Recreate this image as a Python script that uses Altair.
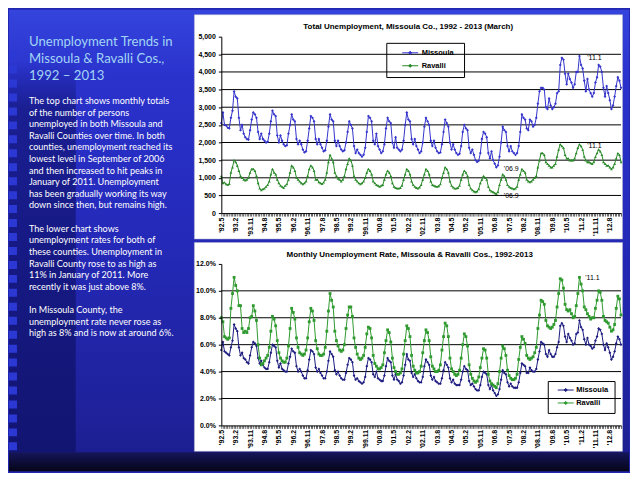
import json
import pandas as pd
import altair as alt

# ---------------- data ----------------
TICK_LABELS = ["'92.5", "'93.2", "'93.11", "'94.8", "'95.5", "'96.2", "'96.11", "'97.8",
               "'98.5", "'99.2", "'99.11", "'00.8", "'01.5", "'02.2", "'02.11", "'03.8",
               "'04.5", "'05.2", "'05.11", "'06.8", "'07.5", "'08.2", "'08.11", "'09.8",
               "'10.5", "'11.2", "'11.11", "'12.8"]

# monthly values, May 1992 .. March 2013
MISSOULA_TOTAL = [
    2550, 2850, 2500, 2480, 2420, 2400, 2700, 2900,
    3450, 3300, 3250, 2700, 2350, 2500, 2250, 2150, 2100, 2080, 2350, 2650,
    2850, 2800, 2700, 2300, 2100, 2250, 2100, 2050, 2000, 2020, 2250, 2600,
    2900, 2800, 2750, 2200, 2000, 2200, 2050, 1950, 1900, 1920, 2250, 2500,
    2800, 2650, 2600, 2100, 1950, 2050, 1950, 1800, 1720, 1750, 2050, 2400,
    2750, 2700, 2600, 2100, 1950, 2100, 1950, 1850, 1750, 1780, 2050, 2450,
    2800, 2650, 2600, 2050, 1900, 2050, 1900, 1800, 1750, 1780, 2000, 2300,
    2600, 2500, 2400, 1900, 1700, 1800, 1700, 1650, 1600, 1650, 1850, 2300,
    2750, 2700, 2600, 2050, 1950, 2250, 1900, 1800, 1700, 1750, 1950, 2400,
    2700, 2600, 2550, 2000, 1850, 2150, 1850, 1800, 1750, 1800, 2050, 2500,
    2850, 2650, 2600, 2100, 1950, 2100, 1900, 1800, 1700, 1750, 2000, 2450,
    2700, 2600, 2500, 2050, 1900, 2050, 1850, 1750, 1700, 1720, 1950, 2300,
    2650, 2550, 2450, 2000, 1800, 1950, 1800, 1700, 1650, 1680, 1900, 2300,
    2500, 2400, 2350, 1850, 1700, 1800, 1650, 1500, 1450, 1480, 1700, 2100,
    2300, 2250, 2150, 1700, 1550, 1750, 1500, 1400, 1300, 1350, 1600, 2000,
    2450, 2350, 2300, 1900, 1750, 1900, 1750, 1700, 1650, 1700, 1900, 2300,
    2800, 2700, 2650, 2400, 2350, 2650, 2600, 2450, 2500, 2700, 3100, 3450,
    3550, 3550, 3500, 3000, 2950, 3250, 3050, 2950, 3000, 3100, 3400, 3450,
    4200, 4400, 4350, 3950, 3650, 3950, 3800, 3700, 3550, 3650, 4000, 4000,
    4450, 4200, 4100, 3750, 3450, 3800, 3500, 3400, 3300, 3400, 3700, 3850,
    4200, 4150, 4000, 3550, 3300, 3600, 3400, 3200, 2950, 3050, 3300, 3600,
    3850, 3750, 3550,
]
RAVALLI_TOTAL = [
    1050, 850, 870, 820, 800, 830, 1150, 1300,
    1500, 1450, 1350, 1200, 1050, 1000, 950, 930, 950, 1000, 1150, 1250,
    1250, 1200, 1050, 850, 700, 650, 680, 700, 750, 800, 900, 1100,
    1250, 1150, 1100, 950, 850, 780, 750, 720, 780, 820, 950, 1150,
    1350, 1300, 1200, 1000, 950, 900, 850, 820, 850, 900, 1050, 1250,
    1350, 1300, 1200, 950, 950, 880, 850, 830, 870, 950, 1150, 1450,
    1650, 1550, 1450, 1150, 1050, 980, 950, 900, 950, 1050, 1250, 1400,
    1550, 1500, 1350, 1050, 950, 900, 850, 820, 850, 900, 1000, 1150,
    1250, 1200, 1100, 900, 850, 800, 780, 750, 780, 800, 950, 1100,
    1200, 1150, 1050, 850, 750, 720, 700, 700, 720, 780, 950, 1100,
    1250, 1200, 1100, 900, 800, 750, 720, 700, 730, 800, 950, 1100,
    1250, 1200, 1100, 900, 800, 780, 760, 750, 770, 820, 1000, 1150,
    1300, 1250, 1150, 900, 780, 730, 700, 700, 720, 780, 950, 1100,
    1200, 1150, 1050, 800, 700, 650, 620, 600, 620, 680, 850, 950,
    1050, 1000, 950, 750, 650, 620, 600, 570, 550, 600, 800, 950,
    1100, 1050, 950, 800, 750, 720, 700, 680, 700, 750, 950, 1100,
    1250, 1200, 1150, 950, 900, 880, 900, 950, 1000, 1050, 1300, 1500,
    1700, 1700, 1650, 1450, 1400, 1350, 1300, 1300, 1350, 1400, 1600, 1800,
    1950, 1900, 1850, 1650, 1550, 1550, 1500, 1500, 1500, 1550, 1700, 1850,
    1950, 1900, 1800, 1600, 1500, 1450, 1450, 1420, 1400, 1450, 1600, 1700,
    1800, 1750, 1650, 1450, 1400, 1350, 1350, 1300, 1250, 1300, 1400, 1550,
    1700, 1650, 1450,
]
MISSOULA_RATE = [
    5.6, 6.2, 5.5, 5.4, 5.3, 5.2, 5.8, 6.3,
    7.5, 7.2, 7.0, 5.8, 5.2, 5.4, 5.0, 4.9, 4.7, 4.6, 5.2, 5.8,
    6.2, 6.1, 5.9, 5.0, 4.6, 4.8, 4.5, 4.3, 4.2, 4.2, 4.7, 5.4,
    6.0, 5.9, 5.8, 4.8, 4.3, 4.6, 4.2, 4.1, 4.0, 4.0, 4.6, 5.1,
    5.7, 5.5, 5.4, 4.4, 4.0, 4.2, 4.0, 3.7, 3.5, 3.5, 4.1, 4.9,
    5.6, 5.5, 5.3, 4.3, 4.0, 4.2, 3.9, 3.7, 3.5, 3.5, 4.0, 4.8,
    5.5, 5.3, 5.1, 4.1, 3.8, 4.0, 3.7, 3.5, 3.4, 3.4, 3.9, 4.5,
    5.0, 4.9, 4.7, 3.7, 3.4, 3.5, 3.3, 3.2, 3.1, 3.2, 3.6, 4.4,
    5.0, 4.9, 4.7, 3.8, 3.6, 4.0, 3.5, 3.4, 3.3, 3.3, 3.7, 4.4,
    5.0, 4.8, 4.7, 3.7, 3.4, 3.8, 3.4, 3.3, 3.1, 3.2, 3.7, 4.5,
    5.3, 4.9, 4.8, 3.9, 3.6, 3.8, 3.5, 3.3, 3.2, 3.2, 3.6, 4.4,
    4.9, 4.7, 4.5, 3.7, 3.4, 3.6, 3.3, 3.2, 3.1, 3.1, 3.5, 4.1,
    4.7, 4.5, 4.3, 3.5, 3.2, 3.4, 3.1, 3.0, 3.0, 3.0, 3.4, 4.0,
    4.4, 4.2, 4.1, 3.3, 3.0, 3.1, 2.9, 2.7, 2.6, 2.6, 3.0, 3.6,
    4.0, 3.9, 3.8, 3.0, 2.7, 3.0, 2.6, 2.4, 2.2, 2.3, 2.7, 3.4,
    4.1, 3.9, 3.8, 3.2, 2.9, 3.1, 2.9, 2.8, 2.8, 2.8, 3.2, 3.9,
    4.6, 4.5, 4.4, 3.9, 3.9, 4.3, 4.1, 4.0, 4.0, 4.2, 4.9, 5.5,
    6.2, 6.1, 6.0, 5.3, 5.1, 5.6, 5.3, 5.1, 5.1, 5.3, 5.8, 6.2,
    7.4, 7.6, 7.4, 6.6, 6.2, 6.8, 6.5, 6.3, 6.0, 6.1, 6.8, 6.9,
    7.8, 7.3, 7.1, 6.4, 6.0, 6.5, 6.0, 5.9, 5.7, 5.8, 6.3, 6.6,
    7.2, 7.1, 6.8, 6.0, 5.6, 6.1, 5.8, 5.4, 4.9, 5.1, 5.5, 6.1,
    6.6, 6.4, 6.0,
]
RAVALLI_RATE = [
    8.0, 7.7, 6.6, 6.5, 6.4, 6.5, 8.7, 9.8,
    11.0, 10.4, 10.0, 8.9, 8.9, 7.2, 6.9, 7.0, 6.9, 7.2, 8.0, 8.1,
    8.9, 8.5, 7.8, 6.0, 5.0, 4.5, 4.6, 4.8, 5.0, 5.2, 5.8, 7.0,
    8.1, 7.9, 7.4, 6.3, 5.4, 5.0, 4.8, 4.7, 4.7, 5.0, 5.9, 7.2,
    8.7, 8.4, 7.9, 6.5, 5.8, 5.4, 5.3, 5.2, 5.3, 5.6, 6.5, 7.7,
    8.7, 8.5, 7.8, 6.3, 5.7, 5.3, 5.2, 5.2, 5.3, 5.8, 7.0, 8.5,
    9.8, 9.3, 8.8, 7.0, 6.3, 5.9, 5.6, 5.5, 5.6, 6.0, 7.2, 8.2,
    8.8, 8.8, 8.1, 6.5, 5.8, 5.3, 5.0, 4.9, 5.0, 5.2, 5.8, 6.8,
    7.3, 7.2, 6.5, 5.2, 4.6, 4.4, 4.2, 4.2, 4.3, 4.5, 5.4, 6.3,
    7.1, 6.9, 6.2, 5.0, 4.3, 4.0, 3.8, 3.8, 3.9, 4.2, 5.3, 6.3,
    7.4, 7.2, 6.6, 5.2, 4.4, 4.1, 3.9, 3.9, 4.0, 4.4, 5.4, 6.3,
    7.1, 6.9, 6.3, 5.1, 4.4, 4.2, 4.0, 4.0, 4.1, 4.5, 5.6, 6.6,
    7.6, 7.4, 6.6, 5.0, 4.2, 4.0, 3.8, 3.7, 3.8, 4.1, 5.0, 6.0,
    6.8, 6.6, 5.9, 4.5, 3.8, 3.5, 3.3, 3.2, 3.3, 3.6, 4.3, 5.0,
    5.7, 5.6, 5.0, 3.8, 3.3, 3.1, 3.0, 2.9, 2.8, 3.1, 4.0, 5.0,
    5.9, 5.7, 5.2, 4.1, 3.7, 3.5, 3.4, 3.4, 3.5, 3.8, 4.9, 5.8,
    6.6, 6.4, 6.1, 5.2, 5.0, 4.9, 5.0, 5.1, 5.4, 5.8, 7.2, 8.2,
    9.3, 9.2, 9.0, 7.8, 7.4, 7.3, 7.2, 7.3, 7.5, 7.8, 8.8, 9.8,
    10.9, 10.8, 10.2, 9.0, 8.6, 8.5, 8.6, 8.3, 8.0, 8.1, 8.9, 9.8,
    11.0, 10.5, 10.0, 8.8, 8.6, 8.3, 8.1, 7.9, 8.0, 8.0, 8.7, 9.3,
    10.0, 9.9, 9.3, 8.1, 7.8, 7.7, 7.6, 7.3, 7.0, 7.1, 7.5, 8.7,
    9.6, 9.4, 8.2,
]
SERIES = ["Missoula", "Ravalli"]
Y_TICKS_TOP = [0, 500, 1000, 1500, 2000, 2500, 3000, 3500, 4000, 4500, 5000]
GRID_TOP = [500, 1000, 1500, 2000, 2500, 3000, 3500, 4000, 4500]
Y_TICKS_BOT = [0, 2, 4, 6, 8, 10, 12]
GRID_BOT = [2, 4, 6, 8, 10]

# annotated points: (month index, series, label)  Sep 2006 = 172, Jan 2011 = 224
ANN_TOP = [(172, "Missoula", "'06.9"), (172, "Ravalli", "'06.9"),
           (224, "Missoula", "'11.1"), (224, "Ravalli", "'11.1")]
ANN_BOT = [(224, "Ravalli", "'11.1")]

TOP_TITLE = "Total Unemployment, Missoula Co., 1992 - 2013 (March)"
BOT_TITLE = "Monthly Unemployment Rate, Missoula & Ravalli Cos., 1992-2013"

LEFT_TITLE = ["Unemployment Trends in", "Missoula & Ravalli Cos.,", "1992 \u2013 2013"]
PARA_1 = [
    "The top chart shows monthly totals",
    "of the number of persons",
    "unemployed in both Missoula and",
    "Ravalli Counties over time.  In both",
    "counties, unemployment reached its",
    "lowest level in September of 2006",
    "and then increased to hit peaks in",
    "January of 2011.  Unemployment",
    "has been gradually working its way",
    "down since then, but remains high.",
]
PARA_2 = [
    "The lower chart shows",
    "unemployment rates for both of",
    "these counties.  Unemployment in",
    "Ravalli County rose to as high as",
    "11% in January of 2011.  More",
    "recently it was just above 8%.",
]
PARA_3 = [
    "In Missoula County, the",
    "unemployment rate never rose as",
    "high as 8% and is now at around 6%.",
]

N = len(MISSOULA_TOTAL)
months = list(range(N))
top_df = pd.DataFrame({"m": months, "Missoula": MISSOULA_TOTAL, "Ravalli": RAVALLI_TOTAL}).melt(
    "m", var_name="series", value_name="v")
bot_df = pd.DataFrame({"m": months, "Missoula": MISSOULA_RATE, "Ravalli": RAVALLI_RATE}).melt(
    "m", var_name="series", value_name="v")
lookup_top = {"Missoula": MISSOULA_TOTAL, "Ravalli": RAVALLI_TOTAL}
lookup_bot = {"Missoula": MISSOULA_RATE, "Ravalli": RAVALLI_RATE}
ann_top_df = pd.DataFrame([{"m": m, "v": lookup_top[s][m], "label": t} for m, s, t in ANN_TOP])
ann_bot_df = pd.DataFrame([{"m": m, "v": lookup_bot[s][m], "label": t} for m, s, t in ANN_BOT])
one = pd.DataFrame({"k": [0]})

# ---------------- style ----------------
W = 401
H_TOP = 177
H_BOT = 162
FONT = "Liberation Sans"
TOP_COLORS = ["#3434cc", "#2a8a2a"]
BOT_COLORS = ["#1c1c80", "#2f9a2f"]
LEGEND_PATH = "M-1,0L1,0M0,-0.2L0.2,0L0,0.2L-0.2,0Z"
BODY_LH = 11.65

label_expr = "datum.value % 9 === 0 ? " + json.dumps(TICK_LABELS) + "[datum.value / 9] : ''"

X_AXIS = alt.Axis(values=months, labelExpr=label_expr, labelAngle=270,
                  labelAlign="right", labelBaseline="middle", labelFont=FONT,
                  labelFontSize=7, labelFontWeight="bold", labelColor="black",
                  labelPadding=1, labelOverlap=False, labelFlush=False,
                  labelBound=False, tickColor="black", tickSize=3, tickWidth=0.6,
                  domainColor="black", domainWidth=1, grid=False, title=None, zindex=1)


def y_axis(values, expr):
    return alt.Axis(values=values, labelExpr=expr, labelFont=FONT, labelFontSize=7,
                    labelFontWeight="bold", labelColor="black", labelPadding=3,
                    labelOverlap=False, labelFlush=False, labelBound=False,
                    tickColor="black", tickSize=3, domainColor="black", domainWidth=1,
                    grid=False, title=None, zindex=1)


def px(v):
    return alt.value(v)


def make_panel(df, ann_df, grid_vals, ydom, yvals, yexpr, colors, shapes, lx, ly, loff, ann_dx, ann_dy):
    xe = alt.X("m:Q", scale=alt.Scale(domain=[0, N - 1], nice=False, zero=False), axis=X_AXIS)
    ye = alt.Y("v:Q", scale=alt.Scale(domain=ydom, nice=False, zero=True), axis=y_axis(yvals, yexpr))
    leg = alt.Legend(orient="none", legendX=lx, legendY=ly, title=None, symbolType=LEGEND_PATH,
                     symbolSize=256, symbolStrokeWidth=1, labelFont=FONT, labelFontSize=7.5,
                     labelFontWeight="bold", labelColor="black", labelOffset=loff,
                     rowPadding=0, padding=0)
    col = alt.Color("series:N", scale=alt.Scale(domain=SERIES, range=colors), legend=leg)
    grid = alt.Chart(pd.DataFrame({"v": grid_vals})).mark_rule(color="black", strokeWidth=1).encode(y=ye)
    line = alt.Chart(df).mark_line(strokeWidth=1).encode(x=xe, y=ye, color=col)
    pts = [
        alt.Chart(df).transform_filter(alt.datum.series == s).mark_point(
            filled=True, size=8, opacity=1, shape=shp).encode(x=xe, y=ye, color=col)
        for s, shp in zip(SERIES, shapes)
    ]
    ann = alt.Chart(ann_df).mark_text(font=FONT, fontSize=7, color="black", dx=ann_dx, dy=ann_dy).encode(
        x=xe, y=ye, text="label:N")
    return [grid, line] + pts + [ann]


def text_block(lines, y, size, color, lh):
    return alt.Chart(one).mark_text(align="left", baseline="alphabetic", font="Lato",
                                    fontSize=size, color=color, lineHeight=lh).encode(
        x=px(-193), y=px(y), text=alt.value(lines))


# ---------------- top chart (also carries page background and left text) ----------------
bg_grad = alt.Gradient(gradient="linear", x1=0, x2=0, y1=0, y2=1, stops=[
    alt.GradientStop(color="#3444dc", offset=0),
    alt.GradientStop(color="#2a32cc", offset=0.15),
    alt.GradientStop(color="#2429b8", offset=0.5),
    alt.GradientStop(color="#1e2198", offset=0.9),
    alt.GradientStop(color="#1a1c8a", offset=1)])
strip_grad = alt.Gradient(gradient="linear", x1=0, x2=0, y1=0, y2=1, stops=[
    alt.GradientStop(color="rgba(14,16,100,0)", offset=0),
    alt.GradientStop(color="rgba(14,16,100,0.55)", offset=0.12),
    alt.GradientStop(color="rgba(14,16,100,0.7)", offset=1)])
band_grad = alt.Gradient(gradient="linear", x1=0, x2=0, y1=0, y2=1, stops=[
    alt.GradientStop(color="#15155a", offset=0),
    alt.GradientStop(color="#050518", offset=1)])

bg = alt.Chart(one).mark_rect(fill=bg_grad, strokeWidth=0).encode(
    x=px(-213), x2=px(409), y=px(-27), y2=px(436))
strip = alt.Chart(one).mark_rect(fill=strip_grad, strokeWidth=0).encode(
    x=px(-213), x2=px(-146), y=px(25), y2=px(417))
band = alt.Chart(one).mark_rect(fill=band_grad, strokeWidth=0).encode(
    x=px(-213), x2=px(409), y=px(417), y2=px(436))
squares = alt.Chart(one).mark_rule(color="#2c38d4", strokeWidth=8, strokeDash=[8, 6]).encode(
    x=px(-209), y=px(15), y2=px(417))
left_title = text_block(LEFT_TITLE, 9.5, 13.2, "#a2d4f4", 16.85)
p1 = text_block(PARA_1, 67.5, 9.1, "white", BODY_LH)
p2 = text_block(PARA_2, 67.5 + 11 * BODY_LH, 9.1, "white", BODY_LH)
p3 = text_block(PARA_3, 67.5 + 18 * BODY_LH, 9.1, "white", BODY_LH)
panel_top = alt.Chart(one).mark_rect(fill="white", stroke="#b8b8c8", strokeWidth=0.5).encode(
    x=px(-27), x2=px(402.5), y=px(-22), y2=px(203))
title_top = alt.Chart(one).mark_text(font=FONT, fontSize=8, fontWeight="bold", color="black",
                                     baseline="middle").encode(
    x=px(187.5), y=px(-10), text=alt.value(TOP_TITLE))
legbox_top = alt.Chart(one).mark_rect(fill="white", stroke="black", strokeWidth=1).encode(
    x=px(166), x2=px(244), y=px(6.7), y2=px(41))

top = alt.layer(
    bg, strip, band, squares, left_title, p1, p2, p3, panel_top, legbox_top,
    *make_panel(top_df, ann_top_df, GRID_TOP, [0, 5000], Y_TICKS_TOP, "format(datum.value, ',')",
                TOP_COLORS, ["diamond", "triangle-up"], 181, 7.7, 3, 15, 2),
    title_top,
).properties(width=W, height=H_TOP)

# ---------------- bottom chart ----------------
panel_bot = alt.Chart(one).mark_rect(fill="white", stroke="#b8b8c8", strokeWidth=0.5).encode(
    x=px(-27), x2=px(402.5), y=px(-21.5), y2=px(188))
title_bot = alt.Chart(one).mark_text(font=FONT, fontSize=8, fontWeight="bold", color="black",
                                     baseline="middle").encode(
    x=px(189), y=px(-9), text=alt.value(BOT_TITLE))
legbox_bot = alt.Chart(one).mark_rect(fill="white", stroke="black", strokeWidth=1).encode(
    x=px(328), x2=px(395), y=px(118), y2=px(150))

bottom = alt.layer(
    panel_bot, legbox_bot,
    *make_panel(bot_df, ann_bot_df, GRID_BOT, [0, 12], Y_TICKS_BOT, "format(datum.value, '.1f') + '%'",
                BOT_COLORS, ["diamond", "square"], 337, 118, 2, 13, 1),
    title_bot,
).properties(width=W, height=H_BOT)

chart = alt.vconcat(top, bottom, spacing=51, bounds="flush").resolve_scale(
    x="independent", y="independent", color="independent"
).resolve_legend(color="independent").properties(
    padding=0, background="#2226b0"
).configure_view(stroke="transparent")

chart.save("out.html", embed_options={"renderer": "svg", "actions": False})
